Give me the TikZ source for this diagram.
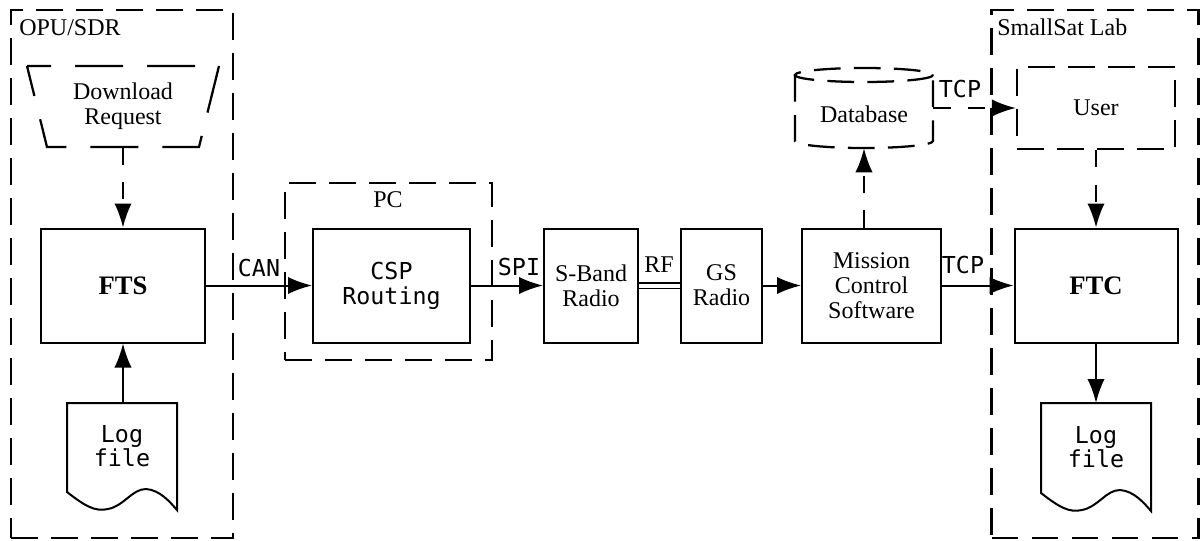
\documentclass[tikz,border=0pt]{standalone}
\usepackage{fontspec}
\setmainfont{Liberation Serif}
\setmonofont{DejaVu Sans Mono}
\usetikzlibrary{arrows.meta}
\begin{document}
\begin{tikzpicture}[x=0.75pt,y=-0.75pt,
  sz/.style 2 args={minimum width=#1*0.75pt, minimum height=#2*0.75pt},
  serif/.style={font=\fontsize{18}{18.75}\selectfont},
  bold/.style={font=\fontsize{20}{20}\selectfont\bfseries},
  mono/.style={font=\fontsize{17.5}{18.75}\selectfont\ttfamily},
  solidbox/.style={draw, line width=1.5pt, inner sep=0pt, align=center},
  dashbox/.style={draw, line width=1.7pt, dash pattern=on 20pt off 10pt, inner sep=0pt, align=center},
  dsh/.style={line width=1.7pt, dash pattern=on 20pt off 10pt},
  arr/.style={-{Latex[length=18pt,width=13pt]}, line width=1.5pt},
  darr/.style={arr, dash pattern=on 13pt off 13pt},
  lbl/.style={anchor=base, inner sep=0pt},
  docline/.style={line width=1.5pt, line join=miter}
]
\useasboundingbox (0,0) rectangle (1201,540);

% ---------- OPU/SDR ----------
\node[dashbox, sz={222}{528}] (opu) at (122,274) {};
\node[serif, anchor=base west, inner sep=0pt] (opulab) at (19,35) {OPU/SDR};
\draw[line width=1.7pt, dash pattern=on 36pt off 18pt, dash phase=18pt]
  (27,66) -- (219,66) -- (199,147) -- (47,147) -- cycle;
\node[serif, align=center, inner sep=0pt, sz={192}{81}] (dl) at (123,106.5) {Download\\Request};
\node[solidbox, bold, sz={164}{114}] (fts) at (123,285.5) {FTS};
\draw[darr] (dl.south) -- (fts.north);

\draw[docline] (67,403) -- (67,492) .. controls (85,506) and (95,512) .. (108,509)
  .. controls (124,506) and (132,489) .. (146,489)
  .. controls (160,490) and (170,502) .. (177,510) -- (177,403) -- cycle;
\node[align=center, inner sep=0pt, font=\fontsize{17.5}{16.5}\selectfont\ttfamily] (log1) at (122,446) {Log\\file};
\coordinate (log1top) at (123,403);
\draw[arr] (log1top) -- (fts.south);

% ---------- PC ----------
\node[dashbox, sz={207}{177}] (pc) at (388.5,271.5) {};
\node[serif, inner sep=0pt] (pclab) at (388,200) {PC};
\node[solidbox, mono, sz={157}{114}] (csp) at (391.5,285.5) {CSP\\Routing};
\draw[arr] (fts.east) -- (csp.west);
\node[mono, lbl] (canlab) at (259,276) {CAN};

% ---------- radios ----------
\node[solidbox, serif, sz={94}{114}] (sband) at (591,285.5) {S-Band\\Radio};
\node[solidbox, serif, sz={81}{114}] (gs) at (721.5,285.5) {GS\\Radio};
\node[solidbox, serif, sz={139}{114}] (mcs) at (871.5,285.5) {Mission\\Control\\Software};
\draw[arr] (csp.east) -- (sband.west);
\node[mono, lbl] (spilab) at (519,275) {SPI};
\draw[line width=0.9pt, double, double distance=3pt] (sband.east) -- (gs.west);
\node[serif, lbl] (rflab) at (659,272) {RF};
\draw[arr] (gs.east) -- (mcs.west);

% ---------- database ----------
\draw[dsh] (795,75) -- (795,141) arc[start angle=180, end angle=0, x radius=69, y radius=7] -- (933,75);
\draw[dsh] (864,75) ellipse [x radius=69, y radius=7];
\node[inner sep=0pt, sz={138}{80}] (db) at (864,108) {};
\node[serif, inner sep=0pt] (dbtext) at (864,114) {Database};
\draw[darr] (mcs.north -| db.south) -- (db.south);

% ---------- SmallSat Lab ----------
\node[dashbox, sz={207}{528}] (lab) at (1095,274) {};
\node[serif, anchor=base west, inner sep=0pt] (lablab) at (997,35) {SmallSat Lab};
\node[dashbox, serif, sz={158}{82}] (user) at (1096,108) {User};
\draw[darr] (db.east) -- (db.east -| user.west);
\node[mono, lbl] (tcp1) at (960,97) {TCP};
\node[solidbox, bold, sz={163}{114}] (ftc) at (1096,285.5) {FTC};
\draw[darr] (user.south) -- (user.south |- ftc.north);
\draw[arr] (mcs.east) -- (ftc.west);
\node[mono, lbl] (tcp2) at (963,273) {TCP};

\begin{scope}[shift={(974,1)}]
\draw[docline] (67,402) -- (67,492) .. controls (85,506) and (95,512) .. (108,509)
  .. controls (124,506) and (132,489) .. (146,489)
  .. controls (160,490) and (170,502) .. (177,510) -- (177,402) -- cycle;
\end{scope}
\node[align=center, inner sep=0pt, font=\fontsize{17.5}{16.5}\selectfont\ttfamily] (log2) at (1096,447) {Log\\file};
\coordinate (log2top) at (1096,403);
\draw[arr] (ftc.south) -- (ftc.south |- log2top);
\end{tikzpicture}
\end{document}
